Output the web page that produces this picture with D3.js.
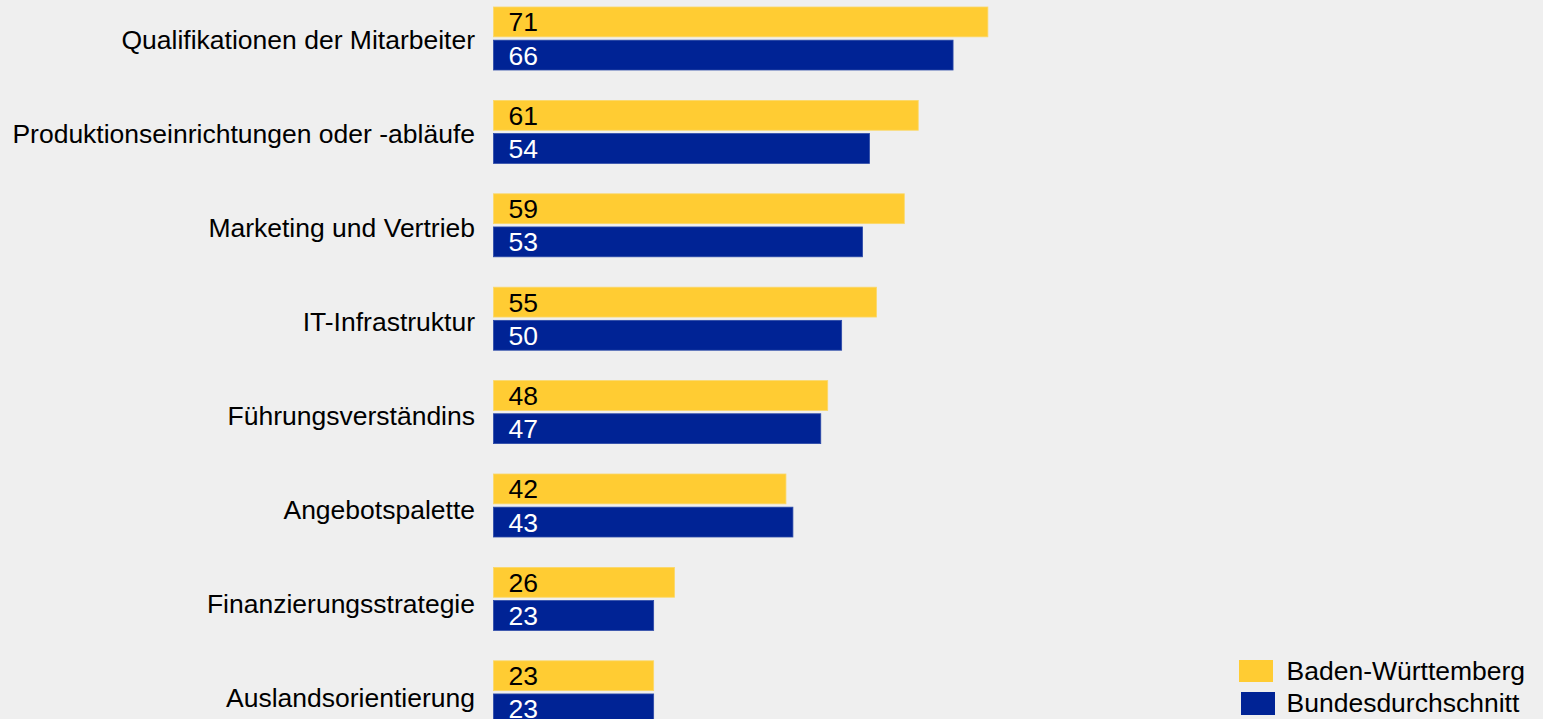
<!DOCTYPE html>
<html>
<head>
<meta charset="utf-8">
<script src="https://cdn.jsdelivr.net/npm/d3@7"></script>
<style>
  html, body { margin: 0; padding: 0; background: #efefef; }
  svg { display: block; }
  text { font-family: "Liberation Sans", Arial, sans-serif; }
</style>
</head>
<body>
<svg id="chart" width="1543" height="719"></svg>
<script>
const categories = [
  "Qualifikationen der Mitarbeiter",
  "Produktionseinrichtungen oder -abläufe",
  "Marketing und Vertrieb",
  "IT-Infrastruktur",
  "Führungsverständins",
  "Angebotspalette",
  "Finanzierungsstrategie",
  "Auslandsorientierung"
];
const seriesNames = ["Baden-Württemberg", "Bundesdurchschnitt"];
const bwValues = [71, 61, 59, 55, 48, 42, 26, 23];
const bundValues = [66, 54, 53, 50, 47, 43, 23, 23];
const colors = ["#ffcc33", "#002395"];
const textColors = ["#000000", "#ffffff"];

const W = 1543, H = 719;
const svg = d3.select("#chart");
svg.append("rect").attr("width", W).attr("height", H).attr("fill", "#efefef");

const x = d3.scaleLinear().domain([0, 100]).range([493.5, 493.5 + 696.3]);
const yGroup = d3.scaleBand().domain(categories).range([7, 7 + 8 * 93.4]).paddingInner(0);
const ySeries = d3.scaleBand().domain(seriesNames).range([0, 63]).paddingInner(0.1);
const yLabel = d3.scalePoint().domain(categories).range([39.5, 698]);

const data = [];
categories.forEach((c, i) => {
  data.push({cat: c, s: 0, v: bwValues[i]});
  data.push({cat: c, s: 1, v: bundValues[i]});
});

const FS = 26.5;
const VFS = 26.5;

svg.append("g").selectAll("rect").data(data).join("rect")
  .attr("x", x(0))
  .attr("y", d => yGroup(d.cat) + ySeries(seriesNames[d.s]))
  .attr("width", d => x(d.v) - x(0))
  .attr("height", ySeries.bandwidth())
  .attr("fill", d => colors[d.s])
  .attr("stroke", d => d.s === 0 ? "#fbd86a" : "#2c4aa8")
  .attr("stroke-width", 0.8);

svg.append("g").selectAll("text").data(data).join("text")
  .attr("x", x(0) + 15)
  .attr("y", d => yGroup(d.cat) + ySeries(seriesNames[d.s]) + ySeries.bandwidth() / 2 + 0.716 * VFS / 2)
  .attr("font-size", VFS)
  .attr("fill", d => textColors[d.s])
  .text(d => d.v);

svg.append("g").selectAll("text").data(categories).join("text")
  .attr("x", 475)
  .attr("y", d => yLabel(d) + 0.716 * FS / 2)
  .attr("text-anchor", "end")
  .attr("font-size", FS)
  .attr("fill", "#000")
  .text(d => d);

// legend
const legendRects = [
  {x: 1239, y: 660, w: 34, h: 22},
  {x: 1241, y: 692, w: 34, h: 23}
];
const legendBaselines = [680, 711.5];
const lg = svg.append("g");
seriesNames.forEach((s, i) => {
  lg.append("rect")
    .attr("x", legendRects[i].x).attr("y", legendRects[i].y)
    .attr("width", legendRects[i].w).attr("height", legendRects[i].h)
    .attr("fill", colors[i]);
  lg.append("text")
    .attr("x", 1286.5)
    .attr("y", legendBaselines[i])
    .attr("font-size", FS)
    .attr("fill", "#000")
    .text(s);
});
</script>
</body>
</html>
